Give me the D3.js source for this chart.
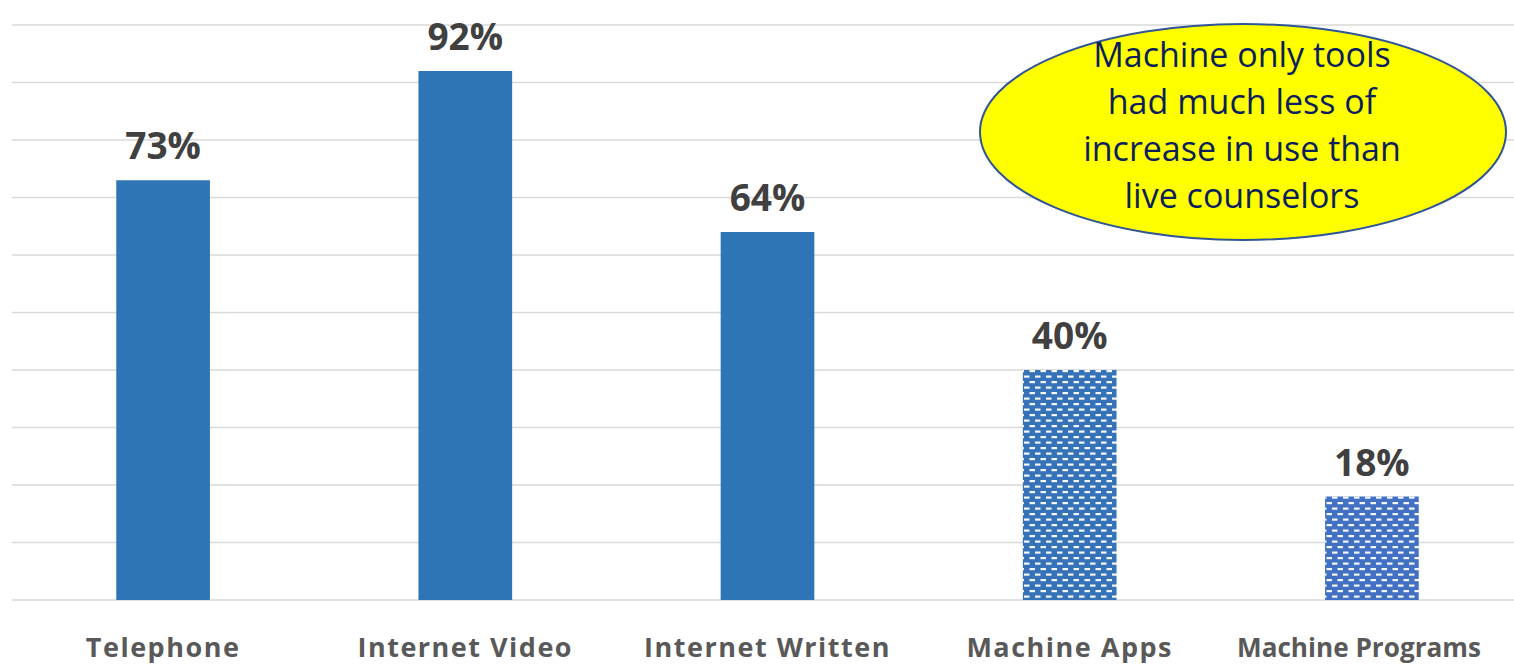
<!DOCTYPE html>
<html><head><meta charset="utf-8">
<script src="https://cdn.jsdelivr.net/npm/d3@7"></script>
<style>body{margin:0;background:#fff}svg{display:block}</style>
</head><body>
<script>
const categories = ["Telephone","Internet Video","Internet Written","Machine Apps","Machine Programs"];
const values = [73,92,64,40,18];
const patterned = [false,false,false,true,true];
const yTicks = [0,10,20,30,40,50,60,70,80,90,100];
const calloutLines = ["Machine only tools","had much less of","increase in use than","live counselors"];

const W=1514,H=666;
const svg=d3.select("body").append("svg").attr("width",W).attr("height",H);
const x=d3.scaleBand().domain(categories).range([12,1523]).paddingInner(0.69).paddingOuter(0.345);
const y=d3.scaleLinear().domain([0,100]).range([600,25]);

const defs=svg.append("defs");
function mkPat(id,bg){
  const p=defs.append("pattern").attr("id",id).attr("patternUnits","userSpaceOnUse").attr("width",11).attr("height",11);
  p.append("rect").attr("width",11).attr("height",11).attr("fill",bg);
  p.append("rect").attr("x",1).attr("y",1.5).attr("width",5.5).attr("height",2.2).attr("fill","#f4f7fc");
  p.append("rect").attr("x",6.5).attr("y",7).attr("width",5.5).attr("height",2.2).attr("fill","#f4f7fc");
  p.append("rect").attr("x",-4.5).attr("y",7).attr("width",5.5).attr("height",2.2).attr("fill","#f4f7fc");
}
mkPat("pat1","#3572b8");
mkPat("pat2","#4270c2");

svg.append("g").selectAll("line").data(yTicks).join("line")
  .attr("x1",12).attr("x2",1523).attr("y1",d=>y(d)).attr("y2",d=>y(d))
  .attr("stroke","#d9d9d9").attr("stroke-width",1.5);

svg.append("g").selectAll("rect").data(categories).join("rect")
  .attr("x",d=>x(d)).attr("width",x.bandwidth())
  .attr("y",(d,i)=>y(values[i])).attr("height",(d,i)=>y(0)-y(values[i]))
  .attr("fill",(d,i)=>patterned[i]?(i===3?"url(#pat1)":"url(#pat2)"):"#2e75b6");

svg.append("g").selectAll("text").data(categories).join("text")
  .attr("x",d=>x(d)+x.bandwidth()/2).attr("y",(d,i)=>y(values[i])-21)
  .attr("text-anchor","middle").attr("font-family","Open Sans").attr("font-weight",700)
  .attr("font-size",37).attr("fill","#404040").text((d,i)=>values[i]+"%");

const cat=svg.append("g").selectAll("text").data(categories).join("text")
  .attr("x",(d,i)=>i===4?1359:x(d)+x.bandwidth()/2).attr("y",657)
  .attr("text-anchor","middle").attr("font-family","Open Sans").attr("font-weight",700)
  .attr("font-size",27).attr("letter-spacing",1.5).attr("fill","#595959").text(d=>d);
cat.filter((d,i)=>i===4).attr("letter-spacing",0).attr("textLength",244).attr("lengthAdjust","spacingAndGlyphs");

const cg=svg.append("g");
cg.append("ellipse").attr("cx",1243).attr("cy",132).attr("rx",263).attr("ry",108)
  .attr("fill","#ffff00").attr("stroke","#2f5597").attr("stroke-width",2);
cg.selectAll("text").data(calloutLines).join("text")
  .attr("x",1242).attr("y",(d,i)=>67+i*47).attr("text-anchor","middle")
  .attr("font-family","Open Sans").attr("font-size",34).attr("fill","#0c1f5c").text(d=>d);
</script>
</body></html>
